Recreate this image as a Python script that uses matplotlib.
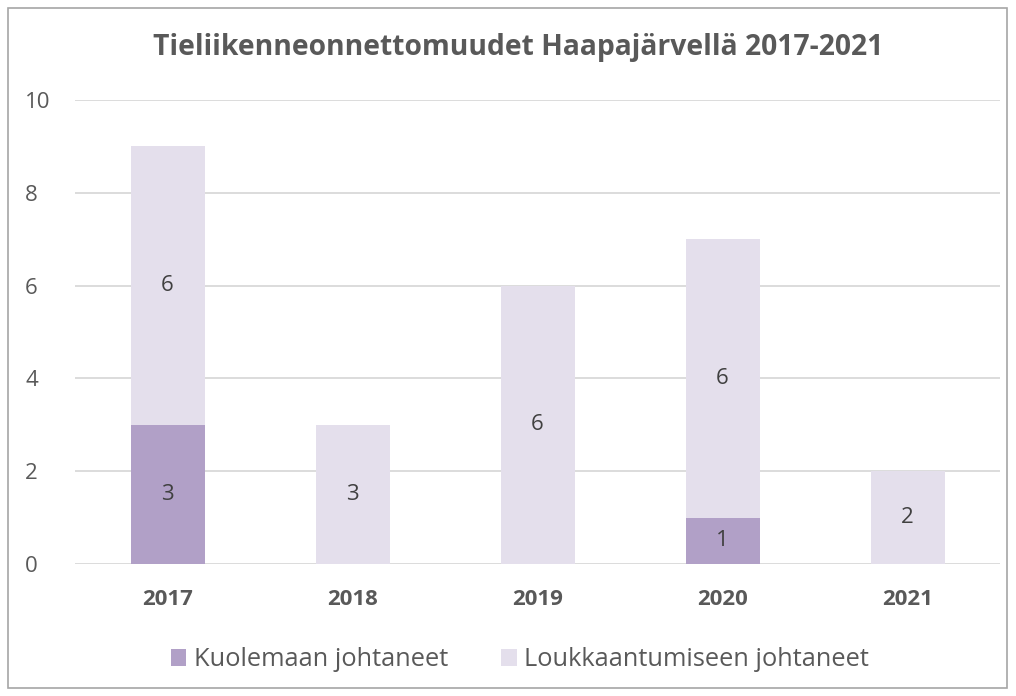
import matplotlib.pyplot as plt
from matplotlib.patches import Rectangle
import numpy as np

plt.rcParams['font.family'] = ['Open Sans', 'DejaVu Sans']

# Data
years = ["2017", "2018", "2019", "2020", "2021"]
kuolemaan = [3, 0, 0, 1, 0]
loukkaantumiseen = [6, 3, 6, 6, 2]
y_ticks = [0, 2, 4, 6, 8, 10]

DARK = "#B1A0C7"
LIGHT = "#E4DFEC"
TEXT = "#595959"
LABEL = "#404040"
GRID = "#D9D9D9"

fig = plt.figure(figsize=(10.16, 6.96), dpi=100)
ax = fig.add_axes([75 / 1016, 1 - 564 / 696, 925 / 1016, 464 / 696])

x = np.arange(len(years))
width = 0.4
b1 = ax.bar(x, kuolemaan, width, color=DARK, label="Kuolemaan johtaneet", zorder=3)
b2 = ax.bar(x, loukkaantumiseen, width, bottom=kuolemaan, color=LIGHT,
            label="Loukkaantumiseen johtaneet", zorder=3)

# Data labels in the middle of each segment
for i in range(len(years)):
    if kuolemaan[i]:
        ax.text(x[i], kuolemaan[i] / 2, str(kuolemaan[i]), ha="center", va="center",
                fontsize=16, color=LABEL, zorder=4)
    if loukkaantumiseen[i]:
        ax.text(x[i], kuolemaan[i] + loukkaantumiseen[i] / 2, str(loukkaantumiseen[i]),
                ha="center", va="center", fontsize=16, color=LABEL, zorder=4)

ax.set_xlim(-0.5, 4.5)
ax.set_ylim(0, 10)
ax.set_yticks(y_ticks)
ax.set_yticklabels([str(t) for t in y_ticks], fontsize=16, color=TEXT)
ax.set_xticks(x)
ax.set_xticklabels(years, fontsize=16, fontweight="bold", color=TEXT)
ax.tick_params(axis="both", length=0)
ax.tick_params(axis="x", pad=18)
ax.tick_params(axis="y", pad=36)
for lbl in ax.get_yticklabels():
    lbl.set_horizontalalignment("left")

ax.yaxis.grid(True, color=GRID, linewidth=1.3, zorder=0)
ax.set_axisbelow(True)
for s in ax.spines.values():
    s.set_visible(False)

fig.text(518 / 1016, 1 - 48 / 696, "Tieliikenneonnettomuudet Haapajärvellä 2017-2021",
         ha="center", va="center", fontsize=20.3, fontweight="bold", color=TEXT)

fig.legend(handles=[b1, b2], loc="center", bbox_to_anchor=(520 / 1016, 1 - 660 / 696),
           ncol=2, frameon=False, fontsize=18.3, labelcolor=TEXT,
           handlelength=0.6, handleheight=0.6, handletextpad=0.3, columnspacing=2.1)

fig.patches.append(Rectangle((8 / 1016, 8 / 696), 999 / 1016, 680 / 696,
                             transform=fig.transFigure, fill=False,
                             edgecolor="#A6A6A6", linewidth=1.2))

fig.savefig("out.png", dpi=100)
